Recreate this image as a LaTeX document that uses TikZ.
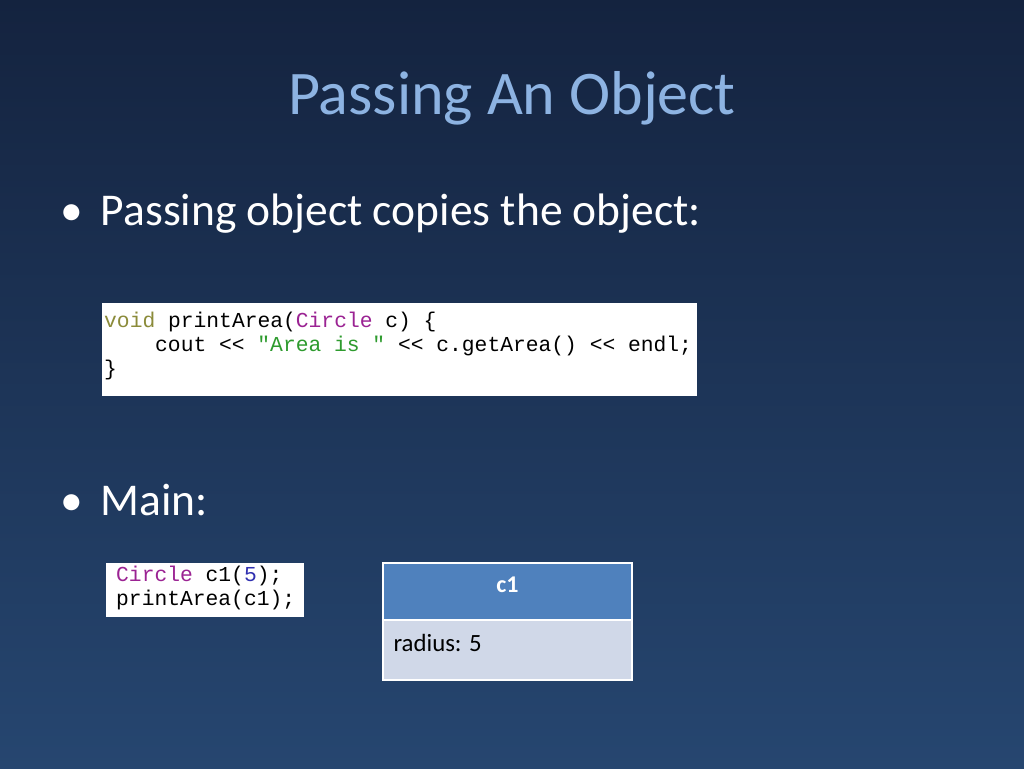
\documentclass[tikz,border=0pt]{standalone}
\usepackage{fontspec}
\setmainfont{Carlito}
\newfontfamily\codefont{Liberation Mono}
\definecolor{bgtop}{HTML}{14233F}
\definecolor{bgbot}{HTML}{264670}
\definecolor{titlec}{HTML}{8DB3E2}
\definecolor{kw}{HTML}{8B8B3A}
\definecolor{ty}{HTML}{9B2393}
\definecolor{st}{HTML}{2E9B2E}
\definecolor{nm}{HTML}{3030B0}
\definecolor{hdr}{HTML}{4F81BD}
\definecolor{bdy}{HTML}{D0D8E8}
\tikzset{x=1pt,y=-1pt,
 codebox/.style={fill=white,draw=white,anchor=north west,inner sep=0pt},
 codetxt/.style={anchor=north west,align=left,font=\codefont\fontsize{21.3}{24}\selectfont,text=black,inner sep=0pt},
 bullet/.style={anchor=west,text=white,font=\fontsize{45.5}{52}\selectfont,inner sep=0pt}}
\begin{document}
\begin{tikzpicture}
\shade[top color=bgtop,bottom color=bgbot] (0,0) rectangle (1024,768);
\useasboundingbox (0,0) rectangle (1024,768);
\node[text=titlec,font=\fontsize{62}{70}\selectfont] (title) at (512,98) {Passing An Object};
\node[bullet] (b1) at (60,214) {•\hspace{18pt}Passing object copies the object:};
\node[bullet] (b2) at (60,500) {•\hspace{18pt}Main:};
\fill[white] (102,303) rectangle (697,396);
\node[codetxt] (code1) at (104,312) {\textcolor{kw}{void} printArea(\textcolor{ty}{Circle} c) \{\\
\hspace*{51pt}cout << \textcolor{st}{"Area is "} << c.getArea() << endl;\\
\}};
\fill[white] (106,563) rectangle (304,617);
\node[codetxt] (code2) at (116,566) {\textcolor{ty}{Circle} c1(\textcolor{nm}{5});\\printArea(c1);};
\draw[white,line width=1.5pt,fill=hdr] (383,563) rectangle (632,620);
\draw[white,line width=1.5pt,fill=bdy] (383,620) rectangle (632,680);
\node[text=white,font=\bfseries\fontsize{24}{28}\selectfont] (hd) at (507.5,585) {c1};
\node[anchor=west,text=black,font=\fontsize{24.8}{28}\selectfont] (bd) at (390,643) {radius: 5};
\end{tikzpicture}
\end{document}
